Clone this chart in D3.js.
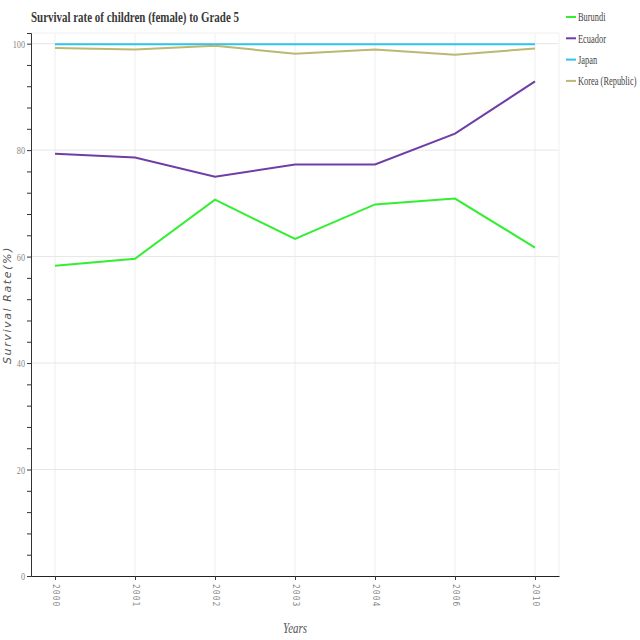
<!DOCTYPE html>
<html><head><meta charset="utf-8">
<script src="https://cdn.jsdelivr.net/npm/d3@7"></script>
<style>body{margin:0;background:#fff}</style>
</head><body>
<svg id="c" width="640" height="640"></svg>
<script>
const years = ["2000","2001","2002","2003","2004","2006","2010"];
const seriesNames = ["Burundi","Ecuador","Japan","Korea (Republic)"];
const burundi = [58.3, 59.6, 70.7, 63.3, 69.8, 70.9, 61.7];
const ecuador = [79.3, 78.6, 75.0, 77.3, 77.3, 83.1, 92.9];
const japan = [99.9, 99.9, 99.9, 99.9, 99.9, 99.9, 99.9];
const korea = [99.2, 98.9, 99.6, 98.1, 98.9, 97.9, 99.1];
const colors = ["#33ee33", "#6e3ea6", "#2ec4ec", "#bdb774"];
const seriesValues = [burundi, ecuador, japan, korea];

const svg = d3.select("#c");
const L = 31, R = 559, T = 33, B = 576;
const x = d3.scalePoint().domain(years).range([L, R]).padding(0.3);
const y = d3.scaleLinear().domain([0, 102]).range([B, T]);
const serif = "'Liberation Serif','DejaVu Serif',serif";

// grid
svg.append("g").selectAll("line").data(years).join("line")
  .attr("x1", d => x(d)).attr("x2", d => x(d)).attr("y1", T).attr("y2", B)
  .attr("stroke", "#eeeeee").attr("stroke-width", 1);
svg.append("g").selectAll("line").data([20,40,60,80,100]).join("line")
  .attr("x1", L).attr("x2", R).attr("y1", d => y(d)).attr("y2", d => y(d))
  .attr("stroke", "#e6e6e6").attr("stroke-width", 1);
svg.append("line").attr("x1", L).attr("x2", R).attr("y1", T).attr("y2", T).attr("stroke", "#f0f0f0");
svg.append("line").attr("x1", R).attr("x2", R).attr("y1", T).attr("y2", B).attr("stroke", "#f0f0f0");

// y axis
const yAx = svg.append("g").attr("transform", `translate(${L},0)`)
  .call(d3.axisLeft(y).tickValues(d3.range(0, 101, 4)).tickSize(4).tickFormat(d => d % 20 === 0 ? d : ""));
yAx.select(".domain").attr("stroke", "#333");
yAx.selectAll(".tick line").attr("stroke", "#333");
yAx.selectAll(".tick text").each(function() {
  const t = d3.select(this);
  t.attr("font-family", serif).attr("font-size", 11).attr("fill", "#888")
   .attr("x", null).attr("transform", "translate(-6,0) scale(0.75,1)");
});

// x axis
const xAx = svg.append("g").attr("transform", `translate(0,${B})`)
  .call(d3.axisBottom(x).tickSize(4).tickSizeOuter(0));
xAx.select(".domain").attr("stroke", "#222").attr("stroke-width", 1.2);
xAx.selectAll(".tick line").attr("stroke", "#333");
xAx.selectAll("text").attr("font-family", "'DejaVu Sans Mono',monospace").attr("font-size", 8)
  .attr("fill", "#888").attr("letter-spacing", 1)
  .attr("transform", "rotate(90)").attr("text-anchor", "start").attr("x", 8).attr("y", 0).attr("dy", "0.35em");

// lines
const line = d3.line().x((d, i) => x(years[i])).y(d => y(d));
seriesValues.forEach((vals, k) => {
  svg.append("path").datum(vals).attr("d", line).attr("fill", "none")
    .attr("stroke", colors[k]).attr("stroke-width", 2);
});

// title
svg.append("text").attr("transform", "translate(31,22) scale(0.73,1)").attr("font-family", serif)
  .attr("font-weight", "bold").attr("font-size", 15).attr("fill", "#3a3a3a")
  .text("Survival rate of children (female) to Grade 5");

// axis labels
svg.append("text").attr("transform", "translate(11,305) rotate(-90)")
  .attr("text-anchor", "middle").attr("font-family", "'DejaVu Sans',sans-serif").attr("font-style", "italic")
  .attr("font-size", 11).attr("letter-spacing", 1.6).attr("fill", "#555").text("Survival Rate(%)");
svg.append("text").attr("transform", "translate(295,633) scale(0.78,1)").attr("text-anchor", "middle")
  .attr("font-family", serif).attr("font-style", "italic").attr("font-size", 14)
  .attr("fill", "#555").text("Years");

// legend
const lg = svg.append("g");
seriesNames.forEach((n, k) => {
  const yy = 17 + k * 21.3;
  lg.append("line").attr("x1", 566).attr("x2", 576).attr("y1", yy).attr("y2", yy)
    .attr("stroke", colors[k]).attr("stroke-width", 2);
  lg.append("text").attr("transform", `translate(578,${yy}) scale(0.7,1)`).attr("dy", "0.35em")
    .attr("font-family", serif).attr("font-size", 12).attr("fill", "#444").text(n);
});
</script>
</body></html>
